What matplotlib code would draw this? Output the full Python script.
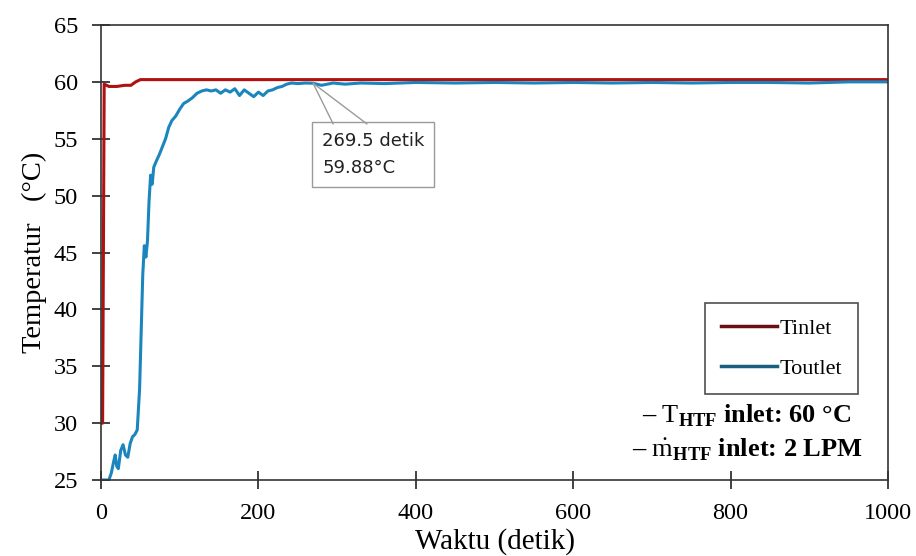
import matplotlib
matplotlib.use('Agg')
import matplotlib.pyplot as plt
from matplotlib.lines import Line2D

# Tinlet
t_in = [0, 2, 4, 10, 20, 30, 38, 44, 50, 100, 200, 300, 400, 500, 600, 700, 800, 900, 1000]
temp_in = [30.0, 30.0, 59.8, 59.6, 59.6, 59.7, 59.7, 60.0, 60.2, 60.2, 60.2, 60.2, 60.2,
           60.2, 60.2, 60.2, 60.2, 60.2, 60.2]

# Toutlet
t_out = [0, 10, 13, 16, 18, 20, 22, 25, 28, 31, 34, 37, 40, 43, 46, 49, 51, 53, 55, 57,
         59, 61, 63, 65, 67, 70, 74, 78, 82, 86, 90, 95, 100, 105, 110, 116, 122, 128,
         134, 140, 146, 152, 158, 164, 170, 176, 182, 188, 194, 200, 206, 212, 218, 224,
         230, 236, 242, 250, 260, 269.5, 280, 295, 310, 330, 360, 400, 450, 500, 550,
         600, 650, 700, 750, 800, 850, 900, 950, 1000]
temp_out = [25.0, 25.0, 25.6, 26.6, 27.2, 26.2, 26.0, 27.6, 28.1, 27.2, 27.0, 28.2, 28.8,
            29.0, 29.4, 33.0, 38.0, 43.0, 45.6, 44.6, 46.0, 49.5, 51.8, 51.0, 52.5, 53.0,
            53.6, 54.3, 55.0, 56.0, 56.6, 57.0, 57.6, 58.1, 58.3, 58.6, 59.0, 59.2, 59.3,
            59.2, 59.3, 59.0, 59.3, 59.1, 59.4, 58.8, 59.3, 59.0, 58.7, 59.1, 58.8, 59.2,
            59.3, 59.5, 59.6, 59.8, 59.9, 59.85, 59.9, 59.88, 59.7, 59.9, 59.8, 59.9,
            59.85, 59.95, 59.9, 59.95, 59.9, 59.95, 59.9, 59.95, 59.9, 59.95, 59.95, 59.9,
            60.0, 60.0]

x_ticks = [0, 200, 400, 600, 800, 1000]
y_ticks = [25, 30, 35, 40, 45, 50, 55, 60, 65]

plt.rcParams['font.family'] = ['Liberation Serif', 'DejaVu Serif']
plt.rcParams['mathtext.fontset'] = 'custom'
plt.rcParams['mathtext.rm'] = 'Liberation Serif'
plt.rcParams['mathtext.bf'] = 'Liberation Serif:bold'

fig = plt.figure(figsize=(9.16, 5.56), dpi=100)
ax = fig.add_axes([0.1103, 0.1367, 0.8591, 0.8183])

ax.plot(t_in, temp_in, color='#B01010', lw=2.2)
ax.plot(t_out, temp_out, color='#1A86BD', lw=2.2)

ax.set_xlim(0, 1000)
ax.set_ylim(25, 65)
ax.set_xticks(x_ticks)
ax.set_yticks(y_ticks)
ax.tick_params(direction='inout', length=13, width=1.2, labelsize=17.5, color='#222222')
ax.tick_params(axis='x', pad=10)
ax.tick_params(axis='y', pad=10)
for s in ax.spines.values():
    s.set_linewidth(1.2)
    s.set_color('#333333')

ax.set_xlabel('Waktu (detik)', fontsize=21, labelpad=3)
ax.set_ylabel('Temperatur   (°C)', fontsize=20.5, labelpad=5)

# callout
pt = (269.5, 59.88)
ax.annotate('269.5 detik\n59.88°C', xy=pt, xytext=(281, 55.6),
            fontsize=13, family=['DejaVu Sans'], color='#222222',
            ha='left', va='top', linespacing=1.65,
            bbox=dict(boxstyle='square,pad=0.55', fc='white', ec='#9a9a9a', lw=1))
for tx in (295, 338):
    ax.annotate('', xy=pt, xytext=(tx, 56.3),
                arrowprops=dict(arrowstyle='-', color='#9a9a9a', lw=1, shrinkA=0, shrinkB=0))

handles = [Line2D([], [], color='#6B0F12', lw=2.5),
           Line2D([], [], color='#1B5E80', lw=2.5)]
leg = ax.legend(handles, ['Tinlet', 'Toutlet'], loc='upper right',
                bbox_to_anchor=(0.962, 0.389), fontsize=16, frameon=True, fancybox=False,
                edgecolor='#222222', handlelength=2.5, handletextpad=0.15,
                labelspacing=0.85, borderpad=0.7, borderaxespad=0)
leg.get_frame().set_linewidth(1.2)

ax.text(0.687, 0.141, '– $\\mathrm{T}_{\\mathbf{HTF}}$ inlet: 60 °C', transform=ax.transAxes,
        fontsize=19, fontweight='bold', ha='left', va='center')
ax.text(0.675, 0.066, '– $\\dot{\\mathrm{m}}_{\\mathbf{HTF}}$ inlet: 2 LPM', transform=ax.transAxes,
        fontsize=19, fontweight='bold', ha='left', va='center')

fig.savefig('out.png', dpi=100)
plt.close(fig)
